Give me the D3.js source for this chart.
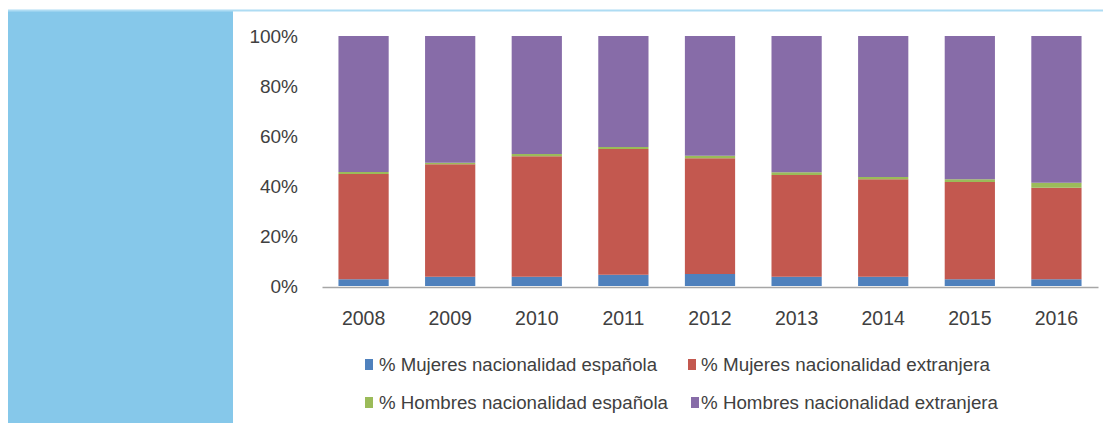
<!DOCTYPE html>
<html>
<head>
<meta charset="utf-8">
<script src="https://cdn.jsdelivr.net/npm/d3@7"></script>
<style>
  html, body { margin: 0; padding: 0; background: #fff; }
  svg { display: block; font-family: "Liberation Sans", Arial, sans-serif; }
</style>
</head>
<body>
<div id="chart"></div>
<script>
// years on the x axis
const years = ['2008', '2009', '2010', '2011', '2012', '2013', '2014', '2015', '2016'];

// shares in percent
const mujeresEsp = [2.7, 3.7, 3.7, 4.5, 4.8, 3.7, 3.7, 2.7, 2.7];
const mujeresExt = [42.1, 45.0, 48.2, 50.3, 46.3, 40.7, 39.0, 38.9, 36.6];
const hombresEsp = [0.8, 0.6, 0.9, 0.8, 1.0, 1.1, 0.9, 1.1, 2.0];
const hombresExt = [54.4, 50.7, 47.2, 44.4, 47.9, 54.5, 56.4, 57.3, 58.7];

const seriesNames = [
  '% Mujeres nacionalidad española',
  '% Mujeres nacionalidad extranjera',
  '% Hombres nacionalidad española',
  '% Hombres nacionalidad extranjera'
];
const seriesColors = ['#4f81bd', '#c3584f', '#9bbb59', '#876ca8'];
const yTicks = [0, 20, 40, 60, 80, 100];

const width = 1104, height = 423;

const svg = d3.select('#chart').append('svg')
  .attr('width', width)
  .attr('height', height);

// left panel and top rule
svg.append('rect')
  .attr('x', 8).attr('y', 10)
  .attr('width', 225).attr('height', height - 10)
  .attr('fill', '#86c8ea');

svg.append('line')
  .attr('x1', 8).attr('x2', 1103)
  .attr('y1', 10.5).attr('y2', 10.5)
  .attr('stroke', '#aedcf3')
  .attr('stroke-width', 2);

const rows = years.map((y, i) => ({
  year: y,
  s0: mujeresEsp[i],
  s1: mujeresExt[i],
  s2: hombresEsp[i],
  s3: hombresExt[i]
}));

const keys = ['s0', 's1', 's2', 's3'];
const stacked = d3.stack().keys(keys)(rows);

const x = d3.scaleBand()
  .domain(years)
  .range([322, 1098])
  .paddingInner(0.42)
  .paddingOuter(0.19);

const y = d3.scaleLinear()
  .domain([0, 100])
  .range([286, 36]);

svg.append('g')
  .selectAll('g')
  .data(stacked)
  .join('g')
  .attr('fill', (d, i) => seriesColors[i])
  .selectAll('rect')
  .data(d => d)
  .join('rect')
  .attr('x', d => x(d.data.year))
  .attr('width', x.bandwidth())
  .attr('y', d => y(d[1]))
  .attr('height', d => y(d[0]) - y(d[1]));

// y axis (labels only)
const yAxis = svg.append('g')
  .attr('transform', 'translate(298,0)')
  .call(d3.axisLeft(y).tickValues(yTicks).tickFormat(d => d + '%').tickSize(0).tickPadding(0));
yAxis.select('.domain').remove();
yAxis.selectAll('text')
  .attr('font-size', 19)
  .attr('font-family', '"Liberation Sans", Arial, sans-serif')
  .attr('fill', '#404040');

// x axis
const xAxis = svg.append('g')
  .attr('transform', 'translate(0,287)')
  .call(d3.axisBottom(x).tickSize(0).tickPadding(24));
xAxis.select('.domain')
  .attr('stroke', '#a6a6a6')
  .attr('stroke-width', 1.5);
xAxis.selectAll('text')
  .attr('font-size', 19.5)
  .attr('font-family', '"Liberation Sans", Arial, sans-serif')
  .attr('fill', '#404040');

// legend
const legendPos = [
  { sx: 365, tx: 379, y: 371 },
  { sx: 688, tx: 701, y: 371 },
  { sx: 365, tx: 379, y: 409 },
  { sx: 691, tx: 701, y: 409 }
];
const legendWidths = [278, 289, 289, 297];

const legend = svg.append('g')
  .selectAll('g')
  .data(seriesNames)
  .join('g');

legend.append('rect')
  .attr('x', (d, i) => legendPos[i].sx)
  .attr('y', (d, i) => legendPos[i].y - 12)
  .attr('width', 8)
  .attr('height', 11)
  .attr('fill', (d, i) => seriesColors[i]);

legend.append('text')
  .attr('x', (d, i) => legendPos[i].tx)
  .attr('y', (d, i) => legendPos[i].y)
  .attr('font-size', 17.5)
  .attr('fill', '#404040')
  .attr('textLength', (d, i) => legendWidths[i])
  .attr('lengthAdjust', 'spacingAndGlyphs')
  .text(d => d);
</script>
</body>
</html>
